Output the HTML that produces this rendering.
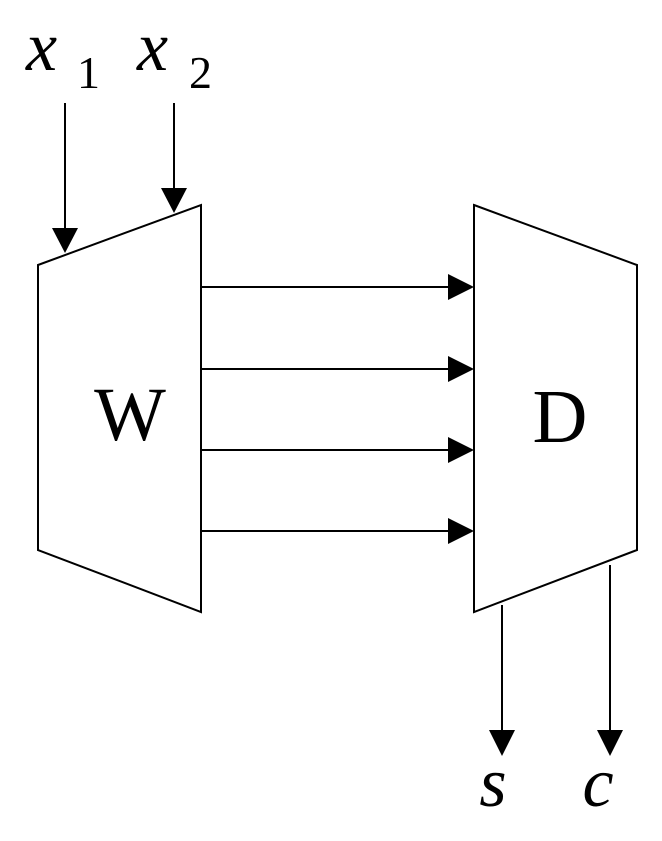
<!DOCTYPE html>
<html><head><style>html,body{margin:0;padding:0;background:#fff} text{font-family:"Liberation Serif","Times New Roman",serif}</style></head>
<body>
<svg width="662" height="836" viewBox="0 0 662 836" xmlns="http://www.w3.org/2000/svg">
<g stroke="#000" stroke-width="2" fill="none">
<polygon points="38,265 201,205 201,612 38,550"/>
<polygon points="474,205 637,265 637,550 474,612"/>
<line x1="65" y1="103" x2="65" y2="230"/>
<line x1="174" y1="103" x2="174" y2="190"/>
<line x1="201" y1="287" x2="450" y2="287"/>
<line x1="201" y1="369" x2="450" y2="369"/>
<line x1="201" y1="450" x2="450" y2="450"/>
<line x1="201" y1="531" x2="450" y2="531"/>
<line x1="502" y1="605" x2="502" y2="732"/>
<line x1="610" y1="565" x2="610" y2="732"/>
</g>
<g fill="#000">
<polygon points="52,228 78,228 65,253"/>
<polygon points="161,188 187,188 174,213"/>
<polygon points="448,274 448,300 474,287"/>
<polygon points="448,356 448,382 474,369"/>
<polygon points="448,437 448,463 474,450"/>
<polygon points="448,518 448,544 474,531"/>
<polygon points="489,730 515,730 502,756"/>
<polygon points="597,730 623,730 610,756"/>
</g>
<g fill="#000">
<text x="26" y="70" font-size="70" font-style="italic">x</text>
<text x="77" y="88" font-size="46">1</text>
<text x="137" y="70" font-size="70" font-style="italic">x</text>
<text x="189" y="88" font-size="46">2</text>
<text x="130" y="440" font-size="76" text-anchor="middle">W</text>
<text x="560" y="442" font-size="76" text-anchor="middle">D</text>
<text x="493" y="806" font-size="70" font-style="italic" text-anchor="middle">s</text>
<text x="598" y="806" font-size="70" font-style="italic" text-anchor="middle">c</text>
</g>
</svg>
</body></html>
